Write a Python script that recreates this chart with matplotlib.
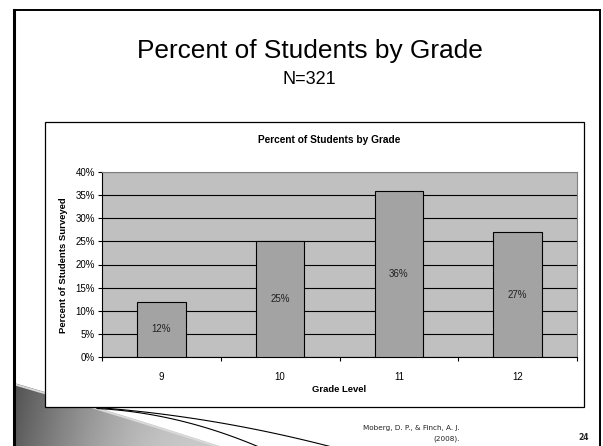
import matplotlib
matplotlib.use("Agg")

import matplotlib.pyplot as plt
from matplotlib.patches import Rectangle, Polygon
import numpy as np

# =====================================================
# Data
# =====================================================

grades = ["9", "10", "11", "12"]

percents = [12, 25, 36, 27]

y_ticks = [0, 5, 10, 15, 20, 25, 30, 35, 40]

slide_title = "Percent of Students by Grade"
sample_size = "N=321"
citation = ["Moberg, D. P., & Finch, A. J.", "(2008)."]
page_number = "24"

plt.rcParams["font.family"] = ["Liberation Sans", "DejaVu Sans"]

# =====================================================
# Figure and slide layer (pixel coordinates)
# =====================================================

W, H = 603, 446

fig = plt.figure(figsize=(W / 100, H / 100), dpi=100)
fig.patch.set_facecolor("white")

bg = fig.add_axes([0, 0, 1, 1])
bg.set_xlim(0, W)
bg.set_ylim(H, 0)
bg.axis("off")

# gray swoosh in the lower left corner
edge_x = np.linspace(14, 222, 60)
edge_y = 383 + (edge_x - 14) * 0.29 + 0.00008 * (edge_x - 14) ** 2

wedge = Polygon(
    list(zip(edge_x, edge_y)) + [(222, 450), (14, 450)],
    closed=True,
    facecolor="none",
    edgecolor="none",
)
bg.add_patch(wedge)

gx = np.linspace(0, 1, 200)
gy = np.linspace(0, 1, 40)
shade = 0.32 + 0.42 * np.sin(np.pi * 0.55 * gx)[None, :] + 0.05 * gy[:, None]
im = bg.imshow(
    shade,
    cmap="gray",
    vmin=0,
    vmax=1,
    extent=(14, 222, 450, 380),
    aspect="auto",
    zorder=1,
)
im.set_clip_path(wedge)

bg.plot(edge_x, edge_y + 1.2, color="#d9d9d9", lw=1.4, zorder=2)


# thin black sweep lines, each a smooth curve through three points
def sweep(xs, ys, n=60):
    c = np.polyfit(xs, ys, 2)
    x = np.linspace(xs[0], xs[-1], n)
    return x, np.polyval(c, x)


lx, ly = sweep([97, 200, 332], [407.5, 419.5, 447])
bg.plot(lx, ly, color="black", lw=0.8, zorder=2)

lx, ly = sweep([97, 200, 259], [408.5, 426, 447])
bg.plot(lx, ly, color="black", lw=0.8, zorder=2)

# slide frame
bg.plot([14, 14], [10, 446], color="black", lw=2.2, zorder=5)
bg.plot([14, 600], [10, 10], color="black", lw=1.4, zorder=5)
bg.plot([600, 600], [10, 446], color="black", lw=1.4, zorder=5)

# slide titles
bg.text(310, 51, slide_title, fontsize=18.9, ha="center", va="center", zorder=5)
bg.text(309, 80, sample_size, fontsize=13, ha="center", va="center", zorder=5)

# chart box
bg.add_patch(
    Rectangle((45, 122), 539, 285, facecolor="white", edgecolor="black", lw=0.9, zorder=3)
)

bg.text(329, 140, "Percent of Students by Grade", fontsize=7.3,
        fontweight="bold", ha="center", va="center", zorder=5)

bg.text(63, 265, "Percent of Students Surveyed", fontsize=6.8,
        fontweight="bold", rotation=90, ha="center", va="center", zorder=5)

bg.text(339, 390, "Grade Level", fontsize=6.8,
        fontweight="bold", ha="center", va="center", zorder=5)

# footer
bg.text(460, 428, citation[0], fontsize=5.2, family="DejaVu Sans",
        ha="right", va="center", color="#222222", zorder=5)
bg.text(460, 439, citation[1], fontsize=5.2, family="DejaVu Sans",
        ha="right", va="center", color="#222222", zorder=5)
bg.text(584, 438, page_number, fontsize=5.5, family="DejaVu Sans",
        fontweight="bold", ha="center", va="center", color="#222222", zorder=5)

# =====================================================
# Bar chart
# =====================================================

ax = fig.add_axes([102 / W, 1 - 357 / H, 475 / W, 185 / H])
ax.set_zorder(4)
ax.set_facecolor("#C0C0C0")

pos = np.arange(len(grades))

ax.bar(pos, percents, width=0.41, color="#A3A3A3",
       edgecolor="black", linewidth=0.8, zorder=3)

for x, p in zip(pos, percents):
    ax.text(x, p / 2, f"{p}%", fontsize=7, ha="center", va="center",
            color="#222222", zorder=4)

ax.set_xlim(-0.5, len(grades) - 0.5)
ax.set_ylim(0, 40)

ax.set_yticks(y_ticks)
ax.set_yticklabels([f"{v}%" for v in y_ticks], fontsize=7)
ax.yaxis.grid(True, color="black", lw=0.8)
ax.set_axisbelow(True)

ax.set_xticks(pos)
ax.set_xticklabels(grades, fontsize=7)
ax.set_xticks(np.arange(-0.5, len(grades)), minor=True)
ax.tick_params(axis="x", which="major", length=0, pad=11)
ax.tick_params(axis="x", which="minor", length=3, width=0.8, direction="out")
ax.tick_params(axis="y", length=3, width=0.8, pad=2)

for s in ["top", "right"]:
    ax.spines[s].set_color("#808080")
    ax.spines[s].set_linewidth(0.8)
for s in ["left", "bottom"]:
    ax.spines[s].set_color("black")
    ax.spines[s].set_linewidth(0.8)

plt.savefig("out.png", dpi=100)
